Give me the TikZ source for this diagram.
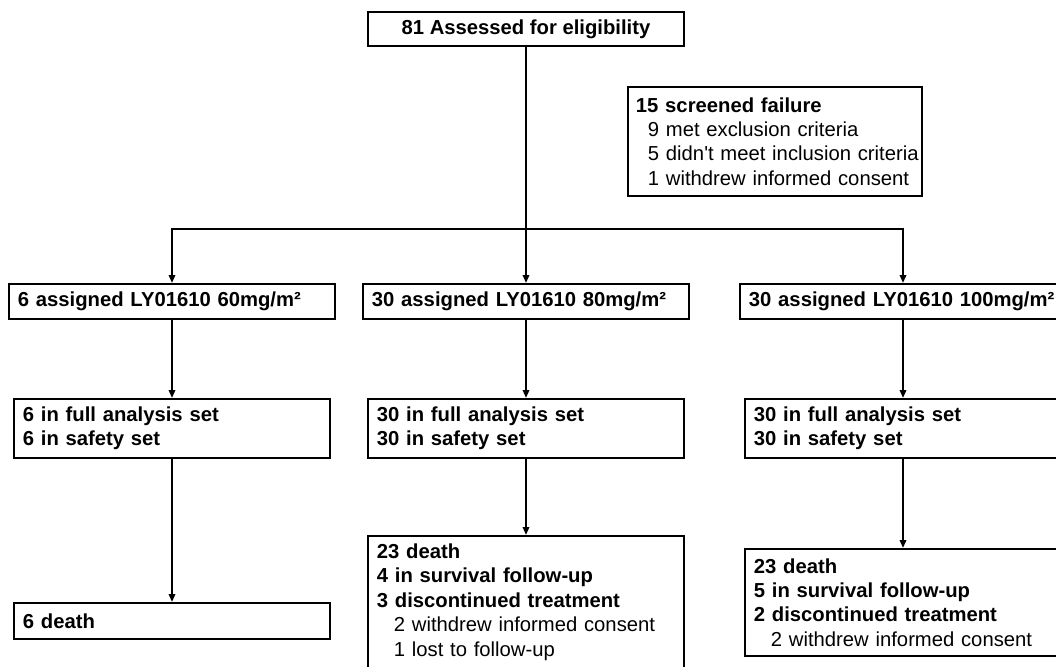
\documentclass[tikz,border=0pt]{standalone}
\usepackage{fontspec}
\setmainfont{Liberation Sans}
\usetikzlibrary{arrows.meta}

\begin{document}
\begin{tikzpicture}[x=0.025cm,y=-0.025cm,
  box/.style={draw,line width=1.4pt,inner xsep=0.225cm,inner ysep=0pt,align=left,
    font=\fontsize{14.4}{17.4}\selectfont},
  arr/.style={line width=1.4pt,-{Triangle[length=0.2cm,width=0.16cm]}}]
%\draw[step=50,gray,very thin] (0,0) grid (1056,666); %background grid
\useasboundingbox (0,0) rectangle (1056,666);
\node[box,align=center,minimum width=7.9cm,minimum height=0.85cm] (top) at (526,29) {\bfseries 81 Assessed for eligibility};
\node[box,inner xsep=0.2cm,text width=6.95cm,minimum height=2.725cm] (fail) at (775,141.5) {\textbf{15 screened failure}\\
  \mbox{\hspace*{0.3cm}9 met exclusion criteria}\\
  \mbox{\hspace*{0.3cm}5 didn\textquotesingle t meet inclusion criteria}\\
  \mbox{\hspace*{0.3cm}1 withdrew informed consent}};
\coordinate (split) at (526,229);
% dose groups
\node[box,text width=7.7cm,minimum height=0.875cm] (a1) at (172,301.5) {\bfseries 6 assigned LY01610 60mg/m²};
\node[box,text width=7.7cm,minimum height=0.875cm] (a2) at (526,301.5) {\bfseries 30 assigned LY01610 80mg/m²};
\node[box,text width=7.7cm,minimum height=0.875cm] (a3) at (903,301.5) {\bfseries \mbox{30 assigned LY01610 100mg/m²}};
\node[box,text width=7.45cm,minimum height=1.475cm] (f1) at (172,428.5) {\bfseries 6 in full analysis set\\ 6 in safety set};
\node[box,text width=7.45cm,minimum height=1.475cm] (f2) at (526,428.5) {\bfseries 30 in full analysis set\\ 30 in safety set};
\node[box,text width=7.45cm,minimum height=1.475cm] (f3) at (903,428.5) {\bfseries 30 in full analysis set\\ 30 in safety set};
\node[box,text width=7.45cm,minimum height=0.9cm] (d1) at (172,621) {\bfseries 6 death};
\node[box,text width=7.45cm,minimum height=3.3cm] (d2) at (526,602) {\textbf{23 death}\\ \textbf{4 in survival follow-up}\\ \textbf{3 discontinued treatment}\\
  \hspace*{0.425cm}2 withdrew informed consent\\
  \hspace*{0.425cm}1 lost to follow-up};
\node[box,text width=7.45cm,minimum height=2.675cm] (d3) at (903,602.5) {\textbf{23 death}\\ \textbf{5 in survival follow-up}\\ \textbf{2 discontinued treatment}\\
  \hspace*{0.425cm}2 withdrew informed consent};
\draw[line width=1.4pt] (top.south) -- (split);
\draw[arr] (split) -- (a2.north);
\draw[arr] (split) -| (a1.north);
\draw[arr] (split) -| (a3.north);
\foreach \i in {1,2,3} {
  \draw[arr] (a\i) -- (f\i);
  \draw[arr] (f\i) -- (d\i);
}
\end{tikzpicture}
\end{document}
